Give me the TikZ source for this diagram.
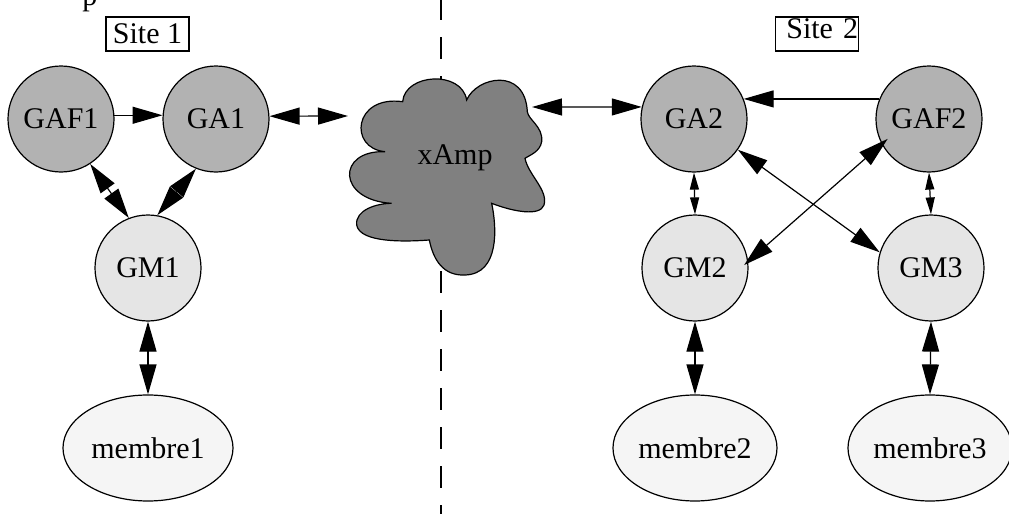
\documentclass[tikz,border=0pt]{standalone}
\usepackage{fontspec}
\setmainfont{Liberation Serif}
\usetikzlibrary{arrows.meta,shapes.geometric}
\definecolor{agentfill}{gray}{0.70}
\definecolor{managerfill}{gray}{0.90}
\definecolor{memberfill}{gray}{0.96}
\definecolor{cloudfill}{gray}{0.50}
\begin{document}
\begin{tikzpicture}[x=0.5pt,y=-0.5pt,
  every node/.style={font=\fontsize{15}{18}\selectfont},
  agent/.style={circle, draw, line width=0.6pt, fill=agentfill, minimum size=53pt, inner sep=0pt},
  manager/.style={circle, draw, line width=0.6pt, fill=managerfill, minimum size=53pt, inner sep=0pt},
  member/.style={ellipse, draw, line width=0.6pt, fill=memberfill, minimum width=82pt, minimum height=53pt, inner sep=0pt},
  sitebox/.style={rectangle, draw, line width=0.6pt, inner sep=0pt, minimum width=41.5pt, minimum height=17pt},
  conn/.style={line width=0.6pt, >={Triangle[length=15pt,width=8.5pt]}},
  shortconn/.style={line width=0.6pt, >={Triangle[length=8.5pt,width=4.5pt]}},
  divider/.style={line width=0.6pt, dash pattern=on 11pt off 8.5pt}
]
\path[use as bounding box] (0,0) rectangle (1009,514);
\clip (0,0) rectangle (1009,514);

% caption line above the picture, mostly outside the frame
\node[anchor=base west, inner sep=0pt] (caption) at (82,5) {p};

% boundary between the two sites
\coordinate (divtop) at (441,-2);
\coordinate (divbot) at (441,514);
\draw[divider] (divtop) -- (divbot);

% site labels
\node[sitebox, text height=13pt, text depth=4pt] (site1) at (147.5,34) {Site 1};
\node[sitebox, text height=11pt, text depth=6pt, text width=41pt, align=right] (site2) at (817,34) {Site 2};

% network cloud, one cubic per lobe
\begin{scope}[shift={(340,70)}, x=0.16667pt, y=-0.16667pt]
  \draw[line width=0.6pt, fill=cloudfill]
    (135,245) .. controls (25,235) and (40,75) .. (188,95)
    .. controls (195,10) and (365,0) .. (380,90)
    .. controls (410,20) and (555,-10) .. (562,125)
    .. controls (565,150) and (610,170) .. (605,215)
    .. controls (600,245) and (570,255) .. (555,265)
    .. controls (565,315) and (625,360) .. (612,405)
    .. controls (600,440) and (520,425) .. (455,400)
    .. controls (470,470) and (480,612) .. (375,615)
    .. controls (310,618) and (280,570) .. (268,510)
    .. controls (200,515) and (60,520) .. (50,465)
    .. controls (45,420) and (110,400) .. (155,400)
    .. controls (-10,390) and (-10,240) .. (135,245) -- cycle;
\end{scope}
\node[inner sep=0pt] (xamp) at (455,158) {xAmp};
\coordinate (xampW) at (348,116);
\coordinate (xampE) at (532,107);

% site 1
\node[agent] (GAF1) at (61,119) {GAF1};
\node[agent] (GA1) at (216,119) {GA1};
\node[manager] (GM1) at (148,268) {GM1};
\node[member, minimum width=85pt] (membre1) at (148,448) {membre1};

% site 2
\node[agent] (GA2) at (694,119) {GA2};
\node[agent] (GAF2) at (929,119) {GAF2};
\node[manager] (GM2) at (695,268) {GM2};
\node[manager] (GM3) at (931,268) {GM3};
\node[member] (membre2) at (695,448) {membre2};
\node[member] (membre3) at (930,448) {membre3};

% connectors, site 1
\draw[conn,->] (GAF1.4) -- (GA1.176);
\draw[conn,<->] (GA1.3) -- (xampW);
\draw[conn,<->] (GAF1.-57) -- (GM1.111);
\draw[conn,<->] (GA1.-112) -- (GM1.80);
\draw[conn,<->] (GM1.south) -- (membre1.north);

% connectors, site 2
\draw[conn,<->] (xampE) -- (GA2.167);
\draw[conn,->] (GAF2.158) -- (GA2.22);
\draw[shortconn,<->] (GA2.south) -- (GM2.north);
\draw[shortconn,<->] (GAF2.south) -- (GM3.north);
\draw[conn,<->] (GA2.-35) -- (GM3.163);
\draw[conn,<->, shorten <=-4pt, shorten >=-2.7pt] (GAF2.-152) -- (GM2.7);
\draw[conn,<->] (GM2.south) -- (membre2.north);
\draw[conn,<->] (GM3.south) -- (membre3.north);
\end{tikzpicture}
\end{document}
